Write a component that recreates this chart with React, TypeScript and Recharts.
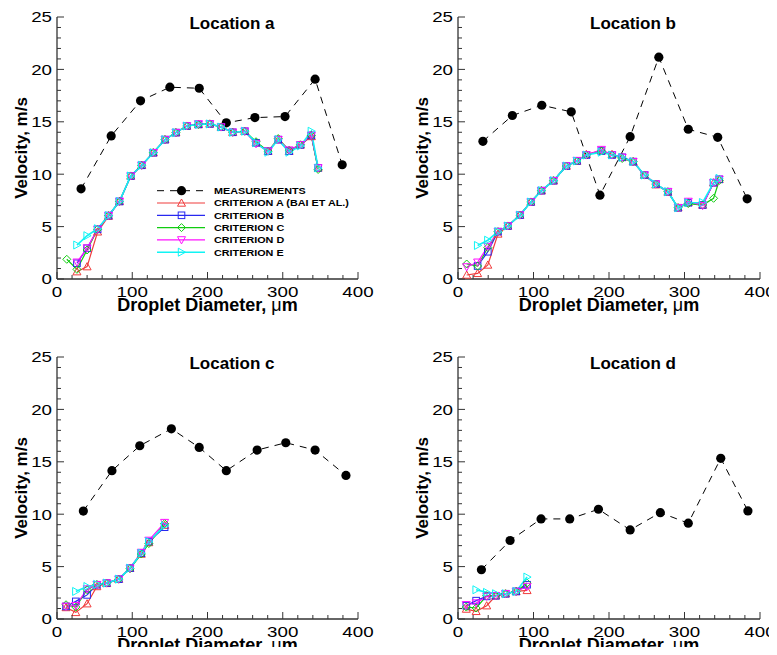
import React from 'react';
import { LineChart, Line, XAxis, YAxis } from 'recharts';

const FONT = '"Liberation Sans", Arial, Helvetica, sans-serif';

// measured droplet velocities (black dots), per location
const measDiamA = [32, 72, 111, 150, 189, 225, 263, 303, 343, 379];
const measVelA = [8.6, 13.65, 17.0, 18.3, 18.2, 14.9, 15.4, 15.5, 19.07, 10.9];
const measDiamB = [33, 72, 111, 150, 188, 228, 266, 305, 344, 383];
const measVelB = [13.14, 15.6, 16.58, 15.95, 8.0, 13.58, 21.17, 14.29, 13.52, 7.65];
const measDiamC = [35, 73, 110, 152, 189, 225, 266, 304, 343, 384];
const measVelC = [10.3, 14.15, 16.53, 18.15, 16.37, 14.15, 16.12, 16.82, 16.12, 13.7];
const measDiamD = [31, 69, 110, 148, 186, 228, 268, 305, 348, 384];
const measVelD = [4.7, 7.49, 9.55, 9.55, 10.47, 8.5, 10.15, 9.14, 15.33, 10.31];

// simulated velocities for criteria A..E (null = no droplets in that bin)
const critDiamA = [13, 26.5, 40, 54, 68.5, 83, 98, 112.5, 128, 143.5, 158, 172.5, 188, 203, 218, 233.5, 249.5, 264.5, 280.5, 294, 308.5, 323.5, 338, 347];
const aCritA = [null, 0.7, 1.18, 4.5, 6.0, 7.4, 9.83, 10.85, 12.05, 13.3, 13.97, 14.6, 14.75, 14.8, 14.5, 14.0, 14.1, 13.0, 12.2, 13.3, 12.2, 12.8, 13.6, 10.6];
const aCritB = [null, 1.5, 2.93, 4.74, 6.05, 7.4, 9.83, 10.85, 12.05, 13.3, 13.97, 14.6, 14.75, 14.8, 14.5, 14.0, 14.1, 13.0, 12.2, 13.3, 12.2, 12.8, 13.7, 10.6];
const aCritC = [1.88, 0.92, 2.77, 4.74, 6.05, 7.4, 9.83, 10.85, 12.05, 13.3, 13.97, 14.6, 14.75, 14.8, 14.5, 14.0, 14.1, 13.1, 12.2, 13.4, 12.3, 12.8, 13.7, 10.45];
const aCritD = [null, 1.6, 2.95, 4.74, 6.05, 7.4, 9.83, 10.85, 12.05, 13.3, 13.97, 14.6, 14.8, 14.8, 14.5, 14.0, 14.1, 12.9, 12.2, 13.3, 12.3, 12.8, 13.7, 10.6];
const aCritE = [null, 3.24, 4.13, 4.8, 6.05, 7.4, 9.83, 10.85, 12.05, 13.3, 13.97, 14.6, 14.75, 14.8, 14.5, 14.0, 14.1, 13.0, 12.1, 13.3, 12.1, 12.7, 14.1, 10.6];

const critDiamB = [11.5, 26, 39.5, 53, 66, 82, 96.5, 110.5, 126.5, 143.5, 157.5, 170, 190, 204, 217.5, 232, 247, 262, 278, 291.5, 305, 324, 338.5, 346];
const bCritA = [0.38, 0.54, 1.34, 4.3, 5.06, 6.1, 7.35, 8.43, 9.38, 10.78, 11.26, 11.9, 12.25, 11.9, 11.61, 11.2, 9.92, 9.0, 8.3, 6.8, 7.3, 7.06, 9.19, 9.51];
const bCritB = [null, 1.24, 2.6, 4.52, 5.06, 6.1, 7.35, 8.43, 9.38, 10.78, 11.26, 11.83, 12.21, 11.83, 11.61, 11.2, 9.92, 9.06, 8.33, 6.8, 7.28, 7.06, 9.19, 9.51];
const bCritC = [1.43, 1.24, 3.0, 4.52, 5.06, 6.1, 7.35, 8.43, 9.38, 10.78, 11.26, 11.83, 12.21, 11.83, 11.5, 11.2, 9.92, 9.06, 8.33, 6.8, 7.2, 7.06, 7.7, 9.4];
const bCritD = [1.15, 1.6, 3.1, 4.52, 5.06, 6.1, 7.35, 8.43, 9.38, 10.78, 11.3, 11.83, 12.35, 11.83, 11.61, 11.2, 9.92, 9.06, 8.33, 6.8, 7.4, 7.0, 9.19, 9.51];
const bCritE = [null, 3.2, 3.7, 4.52, 5.06, 6.1, 7.35, 8.43, 9.38, 10.78, 11.26, 11.83, 12.1, 11.83, 11.61, 11.2, 9.92, 9.06, 8.33, 6.8, 7.28, 7.3, 9.19, 9.6];

const critDiamC = [12, 25, 40, 53, 66, 82, 97, 112, 122, 143];
const cCritA = [1.1, 0.63, 1.46, 3.1, 3.4, 3.8, 4.85, 6.2, 7.3, 8.95];
const cCritB = [1.2, 1.68, 2.3, 3.27, 3.43, 3.8, 4.85, 6.28, 7.39, 8.76];
const cCritC = [1.36, 1.14, 2.79, 3.3, 3.43, 3.8, 4.8, 6.2, 7.2, 9.1];
const cCritD = [1.2, 1.27, 2.86, 3.27, 3.43, 3.8, 4.85, 6.35, 7.5, 9.2];
const cCritE = [null, 2.63, 3.1, 3.3, 3.43, 3.8, 4.85, 6.28, 7.39, 8.9];

const critDiamD = [11, 24, 38, 50, 63, 77, 91.5];
const dCritA = [0.95, 0.73, 1.27, 2.22, 2.41, 2.63, 2.73];
const dCritB = [1.27, 1.75, 2.16, 2.22, 2.41, 2.63, 3.27];
const dCritC = [1.14, 1.05, 2.22, 2.22, 2.41, 2.63, 3.43];
const dCritD = [1.36, 1.52, 2.16, 2.22, 2.41, 2.63, 3.1];
const dCritE = [null, 2.79, 2.54, 2.41, 2.41, 2.63, 4.0];

const xTicks = [0, 20, 40, 60, 80, 100, 120, 140, 160, 180, 200, 220, 240, 260, 280, 300, 320, 340, 360, 380, 400];
const yTicks = [0, 1, 2, 3, 4, 5, 6, 7, 8, 9, 10, 11, 12, 13, 14, 15, 16, 17, 18, 19, 20, 21, 22, 23, 24, 25];

const criteria = [
  { name: 'CRITERION A (BAI ET AL.)', color: '#f03c3c', shape: 'up', width: 1.2 },
  { name: 'CRITERION B', color: '#2828f0', shape: 'square', width: 1.2 },
  { name: 'CRITERION C', color: '#10cc10', shape: 'diamond', width: 1.2 },
  { name: 'CRITERION D', color: '#ff10ff', shape: 'down', width: 1.2 },
  { name: 'CRITERION E', color: '#10f4f4', shape: 'right', width: 1.6 },
];

const AXIS = '#333';

const panels = [
  { title: 'Location a', left: 0, top: 0, w: 388, h: 320, pl: 57, pt: 17, pr: 358, pb: 279,
    measD: measDiamA, meas: measVelA, critD: critDiamA, crit: [aCritA, aCritB, aCritC, aCritD, aCritE] },
  { title: 'Location b', left: 400, top: 0, w: 377, h: 320, pl: 458, pt: 17, pr: 760, pb: 279,
    measD: measDiamB, meas: measVelB, critD: critDiamB, crit: [bCritA, bCritB, bCritC, bCritD, bCritE] },
  { title: 'Location c', left: 0, top: 320, w: 388, h: 335, pl: 57, pt: 357, pr: 358, pb: 619,
    measD: measDiamC, meas: measVelC, critD: critDiamC, crit: [cCritA, cCritB, cCritC, cCritD, cCritE] },
  { title: 'Location d', left: 400, top: 320, w: 377, h: 335, pl: 458, pt: 357, pr: 760, pb: 619,
    measD: measDiamD, meas: measVelD, critD: critDiamD, crit: [dCritA, dCritB, dCritC, dCritD, dCritE] },
];

function Marker({ shape, color, x, y }: { shape: string; color: string; x: number; y: number }) {
  const s = 4;
  if (shape === 'circle') return <circle cx={x} cy={y} r={4.6} fill="#000" />;
  if (shape === 'square') return <rect x={x - 3.3} y={y - 3.3} width={6.6} height={6.6} fill="none" stroke={color} strokeWidth={1} />;
  let pts = '';
  if (shape === 'up') pts = `${x},${y - s} ${x + s},${y + s * 0.8} ${x - s},${y + s * 0.8}`;
  if (shape === 'down') pts = `${x - s},${y - s * 0.8} ${x + s},${y - s * 0.8} ${x},${y + s}`;
  if (shape === 'diamond') pts = `${x},${y - s} ${x + s},${y} ${x},${y + s} ${x - s},${y}`;
  if (shape === 'right') pts = `${x - s * 0.8},${y - s} ${x + s},${y} ${x - s * 0.8},${y + s}`;
  return <polygon points={pts} fill="none" stroke={color} strokeWidth={1} />;
}

const dotFor = (shape: string, color: string) => (props: any) => {
  const { cx, cy, index } = props;
  if (cx == null || cy == null) return <g key={index} />;
  return (
    <g key={index}>
      <Marker shape={shape} color={color} x={cx} y={cy} />
    </g>
  );
};

const YTick = (props: any) => {
  const { x, y, payload } = props;
  const v = payload.value;
  const major = v % 5 === 0;
  return (
    <g>
      <line x1={x} x2={x + (major ? 7 : 4)} y1={y} y2={y} stroke={AXIS} strokeWidth={1} />
      {major && (
        <text transform={`translate(${x - 5},${y + 5.3}) scale(1.25,1)`} textAnchor="end" fontSize={15} fontFamily={FONT} fill="#000">
          {v}
        </text>
      )}
    </g>
  );
};

const XTick = (props: any) => {
  const { x, y, payload } = props;
  const v = payload.value;
  const major = v % 100 === 0;
  return (
    <g>
      <line x1={x} x2={x} y1={y} y2={y - (major ? 7 : 4)} stroke={AXIS} strokeWidth={1} />
      {major && (
        <text transform={`translate(${x},${y + 18}) scale(1.25,1)`} textAnchor="middle" fontSize={15} fontFamily={FONT} fill="#000">
          {v}
        </text>
      )}
    </g>
  );
};

const rows = (xs: number[], ys: (number | null)[]) =>
  xs.map((d, i) => ({ d, v: ys[i] })).filter((r) => r.v != null);

function Panel({ p }: { p: (typeof panels)[number] }) {
  return (
    <div style={{ position: 'absolute', left: p.left, top: p.top }}>
      <LineChart
        width={p.w}
        height={p.h}
        margin={{ top: p.pt - p.top, right: p.left + p.w - p.pr, bottom: 0, left: 0 }}
      >
        <XAxis
          type="number"
          dataKey="d"
          domain={[0, 400]}
          ticks={xTicks}
          interval={0}
          height={p.top + p.h - p.pb}
          tick={XTick}
          tickLine={false}
          tickSize={0}
          tickMargin={0}
          axisLine={{ stroke: AXIS, strokeWidth: 1.3 }}
          allowDataOverflow
        />
        <YAxis
          type="number"
          domain={[0, 25]}
          ticks={yTicks}
          interval={0}
          width={p.pl - p.left}
          tick={YTick}
          tickLine={false}
          tickSize={0}
          tickMargin={0}
          axisLine={{ stroke: AXIS, strokeWidth: 1.3 }}
          allowDataOverflow
        />
        <Line
          data={rows(p.measD, p.meas)}
          dataKey="v"
          stroke="#000"
          strokeWidth={1}
          strokeDasharray="7 6"
          dot={dotFor('circle', '#000')}
          activeDot={false}
          isAnimationActive={false}
        />
        {criteria.map((c, i) => (
          <Line
            key={c.name}
            data={rows(p.critD, p.crit[i])}
            dataKey="v"
            stroke={c.color}
            strokeWidth={c.width}
            dot={dotFor(c.shape, c.color)}
            activeDot={false}
            isAnimationActive={false}
          />
        ))}
      </LineChart>
    </div>
  );
}

function Labels() {
  const legendRows = [{ name: 'MEASUREMENTS', color: '#000', shape: 'circle', width: 1, dash: '7 6' }, ...criteria.map((c) => ({ ...c, dash: undefined as string | undefined }))];
  return (
    <svg width={777} height={655} style={{ position: 'absolute', left: 0, top: 0, pointerEvents: 'none' }} fontFamily={FONT}>
      {panels.map((p) => (
        <g key={p.title}>
          <text x={p.pl + 175} y={p.pt + 11.5} textAnchor="middle" fontSize={17} fontWeight="bold">
            {p.title}
          </text>
          <text x={(p.pl + p.pr) / 2} y={p.pb + 32} textAnchor="middle" fontSize={18} fontWeight="bold">
            Droplet Diameter, <tspan fontWeight="normal">μ</tspan>m
          </text>
          <text transform={`translate(${p.pl - 30},${(p.pt + p.pb) / 2}) rotate(-90)`} textAnchor="middle" fontSize={17} fontWeight="bold">
            Velocity, m/s
          </text>
        </g>
      ))}
      {legendRows.map((r, i) => {
        const y = 190.7 + i * 12.3;
        return (
          <g key={r.name}>
            <line x1={157} x2={205} y1={y} y2={y} stroke={r.color} strokeWidth={r.width} strokeDasharray={r.dash} />
            <Marker shape={r.shape} color={r.color} x={181.5} y={y} />
            <text transform={`translate(214,${y + 3.3}) scale(1.2,1)`} fontSize={9} fontWeight="bold">
              {r.name}
            </text>
          </g>
        );
      })}
    </svg>
  );
}

export default function App() {
  return (
    <div style={{ position: 'relative', width: 777, height: 655, margin: -8, background: '#fff', overflow: 'hidden' }}>
      {panels.map((p) => (
        <Panel key={p.title} p={p} />
      ))}
      <Labels />
    </div>
  );
}
